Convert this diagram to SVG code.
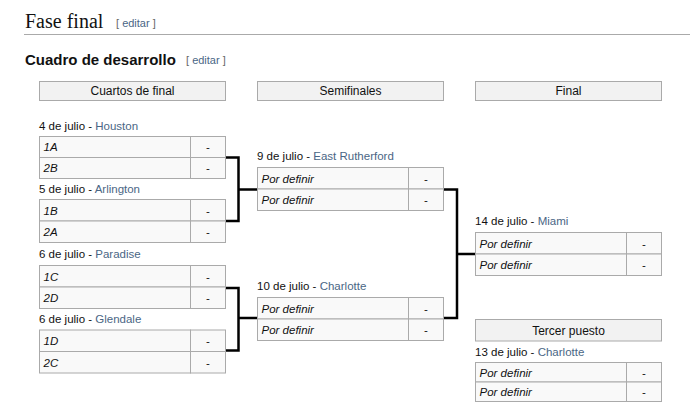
<svg xmlns="http://www.w3.org/2000/svg" width="690" height="414" viewBox="0 0 690 414">
<style>
text{font-family:"Liberation Sans",Arial,sans-serif;fill:#111;}
.h1{font-family:"Liberation Serif","Times New Roman",serif;font-size:20px;}
.h2{font-size:15px;font-weight:bold;}
.ed{font-size:11px;fill:#666;}
.lk{fill:#4a6685;}
.lbl{font-size:11.5px;}
.hd{fill:#f2f2f2;stroke:#aaa;stroke-width:1;}
.cell{fill:#f9f9f9;stroke:#aaa;stroke-width:1;}
.ht{font-size:12px;text-anchor:middle;}
.t{font-size:11.5px;font-style:italic;}
.s{font-size:11.5px;text-anchor:middle;}
.con{fill:none;stroke:#000;stroke-width:2.5;}
</style>
<g id="title">
<text class="h1" x="25" y="27.5">Fase final</text>
<text class="ed" x="116" y="27">[ <tspan class="lk">editar</tspan> ]</text>
<line x1="24" y1="34.5" x2="690" y2="34.5" stroke="#aaa" stroke-width="1"/>
<text class="h2" x="25" y="64.5">Cuadro de desarrollo</text>
<text class="ed" x="186" y="64">[ <tspan class="lk">editar</tspan> ]</text>
</g>
<g id="headers">
<rect class="hd" x="39.5" y="81.5" width="186" height="19"/>
<text class="ht" x="132.5" y="94.5">Cuartos de final</text>
<rect class="hd" x="257.5" y="81.5" width="186" height="19"/>
<text class="ht" x="350.5" y="94.5">Semifinales</text>
<rect class="hd" x="475.5" y="81.5" width="186" height="19"/>
<text class="ht" x="568.5" y="94.5">Final</text>
</g>
<g id="qf1">
<text class="lbl" x="39" y="130">4 de julio - <tspan class="lk">Houston</tspan></text>
<rect class="cell" x="39.5" y="136.5" width="151" height="21"/><rect class="cell" x="190.5" y="136.5" width="35" height="21"/>
<rect class="cell" x="39.5" y="157.5" width="151" height="21"/><rect class="cell" x="190.5" y="157.5" width="35" height="21"/>
<text class="t" x="43.5" y="151">1A</text><text class="s" x="208" y="151">-</text>
<text class="t" x="43.5" y="172">2B</text><text class="s" x="208" y="172">-</text>
</g>
<g id="qf2">
<text class="lbl" x="39" y="193">5 de julio - <tspan class="lk">Arlington</tspan></text>
<rect class="cell" x="39.5" y="199.5" width="151" height="21.5"/><rect class="cell" x="190.5" y="199.5" width="35" height="21.5"/>
<rect class="cell" x="39.5" y="221" width="151" height="21.5"/><rect class="cell" x="190.5" y="221" width="35" height="21.5"/>
<text class="t" x="43.5" y="214.5">1B</text><text class="s" x="208" y="214.5">-</text>
<text class="t" x="43.5" y="236">2A</text><text class="s" x="208" y="236">-</text>
</g>
<g id="qf3">
<text class="lbl" x="39" y="257.5">6 de julio - <tspan class="lk">Paradise</tspan></text>
<rect class="cell" x="39.5" y="265.5" width="151" height="21.5"/><rect class="cell" x="190.5" y="265.5" width="35" height="21.5"/>
<rect class="cell" x="39.5" y="287" width="151" height="21.5"/><rect class="cell" x="190.5" y="287" width="35" height="21.5"/>
<text class="t" x="43.5" y="280.5">1C</text><text class="s" x="208" y="280.5">-</text>
<text class="t" x="43.5" y="302">2D</text><text class="s" x="208" y="302">-</text>
</g>
<g id="qf4">
<text class="lbl" x="39" y="323">6 de julio - <tspan class="lk">Glendale</tspan></text>
<rect class="cell" x="39.5" y="330" width="151" height="21.5"/><rect class="cell" x="190.5" y="330" width="35" height="21.5"/>
<rect class="cell" x="39.5" y="351.5" width="151" height="21.5"/><rect class="cell" x="190.5" y="351.5" width="35" height="21.5"/>
<text class="t" x="43.5" y="345">1D</text><text class="s" x="208" y="345">-</text>
<text class="t" x="43.5" y="366.5">2C</text><text class="s" x="208" y="366.5">-</text>
</g>
<g id="sf1">
<text class="lbl" x="257" y="159.5">9 de julio - <tspan class="lk">East Rutherford</tspan></text>
<rect class="cell" x="257.5" y="167.5" width="151" height="21.5"/><rect class="cell" x="408.5" y="167.5" width="35" height="21.5"/>
<rect class="cell" x="257.5" y="189" width="151" height="21.5"/><rect class="cell" x="408.5" y="189" width="35" height="21.5"/>
<text class="t" x="261.5" y="182.5">Por definir</text><text class="s" x="426" y="182.5">-</text>
<text class="t" x="261.5" y="204">Por definir</text><text class="s" x="426" y="204">-</text>
</g>
<g id="sf2">
<text class="lbl" x="257" y="289.5">10 de julio - <tspan class="lk">Charlotte</tspan></text>
<rect class="cell" x="257.5" y="297.5" width="151" height="21.5"/><rect class="cell" x="408.5" y="297.5" width="35" height="21.5"/>
<rect class="cell" x="257.5" y="319" width="151" height="21.5"/><rect class="cell" x="408.5" y="319" width="35" height="21.5"/>
<text class="t" x="261.5" y="312.5">Por definir</text><text class="s" x="426" y="312.5">-</text>
<text class="t" x="261.5" y="334">Por definir</text><text class="s" x="426" y="334">-</text>
</g>
<g id="final">
<text class="lbl" x="475" y="225">14 de julio - <tspan class="lk">Miami</tspan></text>
<rect class="cell" x="475.5" y="232.5" width="151" height="21.5"/><rect class="cell" x="626.5" y="232.5" width="35" height="21.5"/>
<rect class="cell" x="475.5" y="254" width="151" height="21.5"/><rect class="cell" x="626.5" y="254" width="35" height="21.5"/>
<text class="t" x="479.5" y="247.5">Por definir</text><text class="s" x="644" y="247.5">-</text>
<text class="t" x="479.5" y="269">Por definir</text><text class="s" x="644" y="269">-</text>
</g>
<g id="third">
<rect class="hd" x="475.5" y="319.5" width="186" height="21.5"/>
<text class="ht" x="568.5" y="334.5">Tercer puesto</text>
<text class="lbl" x="475" y="355.5">13 de julio - <tspan class="lk">Charlotte</tspan></text>
<rect class="cell" x="475.5" y="362.5" width="151" height="19.5"/><rect class="cell" x="626.5" y="362.5" width="35" height="19.5"/>
<rect class="cell" x="475.5" y="382" width="151" height="19.5"/><rect class="cell" x="626.5" y="382" width="35" height="19.5"/>
<text class="t" x="479.5" y="376.5">Por definir</text><text class="s" x="644" y="376.5">-</text>
<text class="t" x="479.5" y="396">Por definir</text><text class="s" x="644" y="396">-</text>
</g>
<g id="connectors">
<path class="con" d="M226 157.5 H238.5 V221 H226 M238.5 189.5 H257"/>
<path class="con" d="M226 288 H238.5 V350.5 H226 M238.5 318 H257"/>
<path class="con" d="M444 189.5 H457 V318 H444 M457 254 H475"/>
</g>
</svg>
